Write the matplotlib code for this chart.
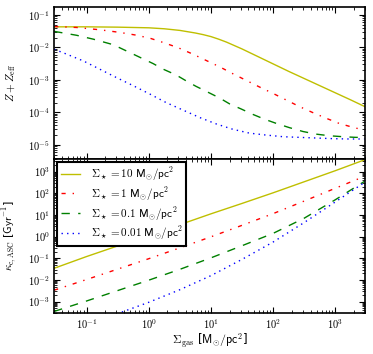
import numpy as np
import matplotlib
matplotlib.use("Agg")
import matplotlib.pyplot as plt
from matplotlib.ticker import LogLocator, FuncFormatter, NullFormatter

plt.rcParams.update({
    "mathtext.fontset": "cm",
    "font.family": ["DejaVu Sans"],
    "font.size": 8,
    "lines.linewidth": 1.0,
    "lines.dashed_pattern": [6, 6],
    "lines.dashdot_pattern": [3, 5, 1, 5],
    "lines.dotted_pattern": [1, 3],
    "lines.scale_dashes": False,
    "xtick.direction": "in",
    "ytick.direction": "in",
    "xtick.top": True,
    "ytick.right": True,
    "xtick.major.size": 4,
    "ytick.major.size": 4,
    "xtick.minor.size": 2,
    "ytick.minor.size": 2,
    "axes.linewidth": 1.2,
})

# ---- Data (log10 values) ----
labels = [r"$\Sigma_\star = 10\ \mathsf{M}_{\odot}/\mathsf{pc}^2$",
          r"$\Sigma_\star = 1\ \mathsf{M}_{\odot}/\mathsf{pc}^2$",
          r"$\Sigma_\star = 0.1\ \mathsf{M}_{\odot}/\mathsf{pc}^2$",
          r"$\Sigma_\star = 0.01\ \mathsf{M}_{\odot}/\mathsf{pc}^2$"]

# Top panel: log10(Sigma_gas), log10(Z + Z_eff)
top_s10_x = [-1.52, -1.0, -0.5, 0.0, 0.25, 0.5, 0.75, 0.875, 1.0, 1.125, 1.25, 1.5,
             1.75, 2.0, 2.25, 2.5, 2.75, 3.0, 3.25, 3.47]
top_s10_y = [-1.37, -1.37, -1.38, -1.40, -1.43, -1.48, -1.56, -1.61, -1.67, -1.75,
             -1.84, -2.05, -2.28, -2.51, -2.74, -2.96, -3.18, -3.40, -3.62, -3.82]

top_s1_x = [-1.52, -1.16, -0.79, -0.47, -0.22, 0.02, 0.23, 0.47, 0.71, 0.93, 1.14,
            1.35, 1.57, 1.78, 1.99, 2.21, 2.42, 2.64, 2.85, 3.06, 3.28, 3.47]
top_s1_y = [-1.36, -1.39, -1.46, -1.54, -1.62, -1.72, -1.85, -2.01, -2.21, -2.41,
            -2.60, -2.81, -3.02, -3.22, -3.41, -3.62, -3.82, -4.01, -4.18, -4.34,
            -4.46, -4.55]

top_s01_x = [-1.52, -1.16, -0.89, -0.57, -0.36, -0.14, 0.07, 0.23, 0.44, 0.60, 0.76,
             0.93, 1.14, 1.30, 1.49, 1.67, 1.86, 2.05, 2.26, 2.48, 2.69, 2.90, 3.12,
             3.33, 3.47]
top_s01_y = [-1.51, -1.63, -1.75, -1.92, -2.11, -2.31, -2.50, -2.67, -2.85, -3.03,
             -3.20, -3.36, -3.56, -3.74, -3.90, -4.06, -4.21, -4.34, -4.47, -4.59,
             -4.67, -4.72, -4.75, -4.77, -4.77]

top_s001_x = [-1.52, -1.32, -1.05, -0.79, -0.52, -0.25, 0.02, 0.28, 0.55, 0.82, 1.09,
              1.35, 1.62, 1.89, 2.16, 2.42, 2.69, 2.96, 3.22, 3.47]
top_s001_y = [-2.06, -2.21, -2.42, -2.67, -2.93, -3.18, -3.44, -3.70, -3.93, -4.16,
              -4.36, -4.52, -4.64, -4.70, -4.75, -4.77, -4.79, -4.81, -4.82, -4.82]

# Bottom panel: log10(Sigma_gas), log10(kappa_c,ASC)
bot_s10_x = [-1.52, -1.0, -0.5, 0.0, 0.5, 1.0, 1.5, 2.0, 2.5, 3.0, 3.47]
bot_s10_y = [-1.46, -0.92, -0.43, 0.05, 0.55, 1.05, 1.53, 2.02, 2.53, 3.04, 3.54]

bot_s1_x = [-1.52, -1.0, -0.5, 0.0, 0.5, 1.0, 1.5, 2.0, 2.5, 3.0, 3.47]
bot_s1_y = [-2.47, -1.98, -1.50, -1.02, -0.52, -0.01, 0.52, 1.06, 1.64, 2.23, 2.78]

bot_s01_x = [-1.52, -1.0, -0.5, 0.0, 0.5, 1.0, 1.5, 2.0, 2.5, 3.0, 3.47]
bot_s01_y = [-3.45, -2.97, -2.49, -2.01, -1.51, -0.98, -0.42, 0.15, 0.85, 1.70, 2.55]

bot_s001_x = [-0.6, -0.47, 0.0, 0.5, 1.0, 1.5, 2.0, 2.5, 3.0, 3.47]
bot_s001_y = [-3.65, -3.52, -3.03, -2.45, -1.80, -1.05, -0.25, 0.65, 1.60, 2.50]

colors = ["#bfbf00", "red", "green", "blue"]
styles = ["-", "-.", "--", ":"]

top_series = [(top_s10_x, top_s10_y), (top_s1_x, top_s1_y),
              (top_s01_x, top_s01_y), (top_s001_x, top_s001_y)]
bot_series = [(bot_s10_x, bot_s10_y), (bot_s1_x, bot_s1_y),
              (bot_s01_x, bot_s01_y), (bot_s001_x, bot_s001_y)]

W, H = 373, 354
fig = plt.figure(figsize=(W / 100, H / 100), dpi=100)
left = 54 / W
width = (365 - 54) / W
ax1 = fig.add_axes([left, 1 - 158.5 / H, width, (158.5 - 6.5) / H])
ax2 = fig.add_axes([left, 1 - 313 / H, width, (313 - 158.5) / H], sharex=ax1)

for (xs, ys), c, ls in zip(top_series, colors, styles):
    ax1.plot(np.power(10.0, xs), np.power(10.0, ys), color=c, ls=ls)
for (xs, ys), c, ls, lab in zip(bot_series, colors, styles, labels):
    ax2.plot(np.power(10.0, xs), np.power(10.0, ys), color=c, ls=ls, label=lab)

fmt = FuncFormatter(lambda v, p: r"$10^{%d}$" % int(round(np.log10(v))))
for ax in (ax1, ax2):
    ax.set_xscale("log")
    ax.set_yscale("log")
    for axis in (ax.xaxis, ax.yaxis):
        axis.set_major_locator(LogLocator(base=10, numticks=30))
        axis.set_minor_locator(LogLocator(base=10, subs=np.arange(2, 10), numticks=30))
        axis.set_major_formatter(fmt)
        axis.set_minor_formatter(NullFormatter())
    ax.tick_params(which="both", labelsize=7.5)
    ax.tick_params(axis="y", pad=3)

ax1.set_xlim(0.03, 3000)
ax1.set_ylim(3.8e-6, 0.18)
ax2.set_ylim(3e-4, 4e3)
plt.setp(ax1.get_xticklabels(), visible=False)

ax1.set_ylabel(r"$Z + Z_{\rm eff}$", fontsize=8)
ax2.set_ylabel(r"$\kappa_{\rm c,ASC}$ [$\mathsf{Gyr}^{-1}$]", fontsize=8)
ax2.set_xlabel(r"$\Sigma_{\rm gas}$ [$\mathsf{M}_{\odot}/\mathsf{pc}^2$]", fontsize=8.5)
ax1.yaxis.set_label_coords(-0.115, 0.5)
ax2.yaxis.set_label_coords(-0.115, 0.5)
ax2.xaxis.set_label_coords(0.5, -0.12)

leg = ax2.legend(loc="upper left", fontsize=8, handlelength=1.7, handletextpad=1.0,
                 labelspacing=0.2, borderpad=0.3, fancybox=False, framealpha=1,
                 borderaxespad=0.3)
leg.get_frame().set_edgecolor("black")
leg.get_frame().set_linewidth(1.5)

fig.savefig("out.png", dpi=100)
